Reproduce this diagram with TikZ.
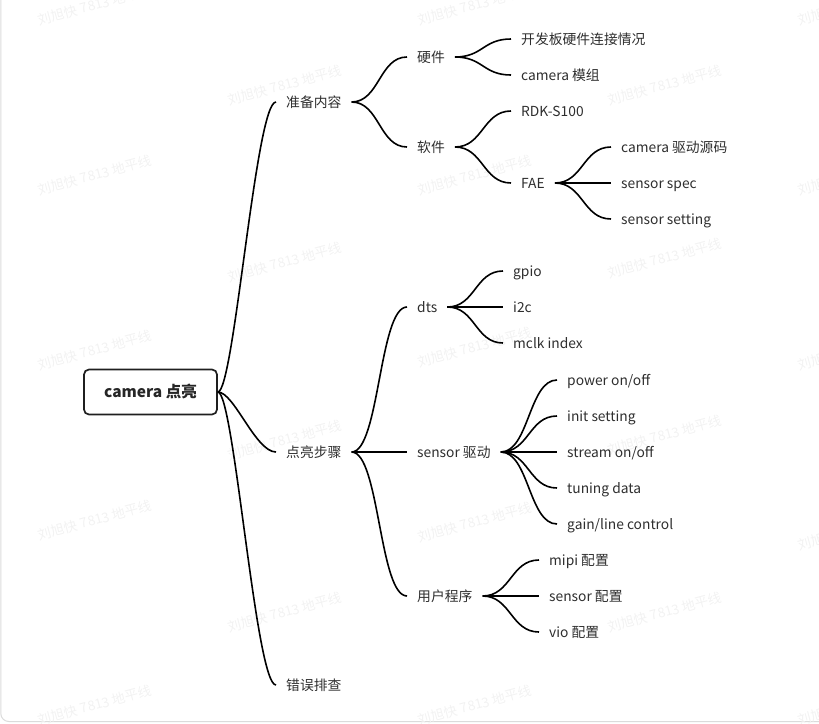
\documentclass[tikz,border=0pt]{standalone}
\usepackage{fontspec}
\setmainfont{Noto Sans CJK SC}
\usetikzlibrary{calc}
\tikzset{
  topic/.style={anchor=west, inner xsep=10pt, inner ysep=0pt, text height=12pt, text depth=2pt,
    font=\fontsize{13.8}{16}\selectfont, text=black!82},
  rootbox/.style={draw=black!88, line width=1.7pt, rounded corners=5pt, minimum width=133pt,
    minimum height=45pt, fill=white, text=black!85, font=\bfseries\fontsize{15.5}{18}\selectfont},
  link/.style={draw=black, line width=1.6pt, to path={let \p1=(\tikztostart), \p2=(\tikztotarget) in
    .. controls ({\x1+0.5*(\x2-\x1)},\y1) and ({\x2-0.5*(\x2-\x1)},\y2) .. (\tikztotarget)}},
  rootlink/.style={draw=black, line width=1.6pt, to path={let \p1=(\tikztostart), \p2=(\tikztotarget) in
    .. controls ({\x1+0.28*(\x2-\x1)},\y1) and ({\x2-0.35*(\x2-\x1)},\y2) .. (\tikztotarget)}},
  wmark/.style={rotate=15, text=black!5, font=\fontsize{13.5}{16}\selectfont, inner sep=0pt},
  frame/.style={draw=black!14, line width=1pt, rounded corners=8pt}
}
\begin{document}
\begin{tikzpicture}[x=1pt,y=-1pt]
\useasboundingbox (0,0) rectangle (819,723);
\begin{scope}
\clip (0,0) rectangle (819,723);
\draw[frame] (0.8,-10) rectangle (830,721.5);
% watermarks
\foreach \wx/\wy/\wn in {95/5/w1,475/5/w2,855/5/w3,285/85/w4,665/85/w5,95/175/w6,475/175/w7,855/175/w8,
  285/262/w9,665/258/w10,95/350/w11,475/347/w12,855/350/w13,285/440/w14,665/435/w15,
  95/520/w16,475/522/w17,855/530/w18,285/612/w19,665/612/w20,95/705/w21,475/705/w22,855/705/w23}
  \node[wmark] (\wn) at (\wx,\wy) {刘旭快 7813 地平线};
\end{scope}

% root
\node[rootbox] (root) at (150.5,392) {camera 点亮};

% level 1
\node[topic] (prep) at (276,102) {准备内容};
\node[topic] (light) at (276,452) {点亮步骤};
\node[topic] (debug) at (276,685) {错误排查};

% level 2
\node[topic] (hw) at (407,57) {硬件};
\node[topic] (sw) at (407,147) {软件};
\node[topic] (dts) at (407,307) {dts};
\node[topic] (drv) at (407,452) {sensor 驱动};
\node[topic] (app) at (407,596) {用户程序};

% level 3
\node[topic] (board) at (511,39) {开发板硬件连接情况};
\node[topic] (cammod) at (511,75) {camera 模组};
\node[topic] (rdk) at (511,111) {RDK-S100};
\node[topic] (fae) at (511,183) {FAE};

\node[topic] (gpio) at (503,271) {gpio};
\node[topic] (i2c) at (503,307) {i2c};
\node[topic] (mclk) at (503,343) {mclk index};

\node[topic] (pwr) at (557,380) {power on/off};
\node[topic] (init) at (557,416) {init setting};
\node[topic] (strm) at (557,452) {stream on/off};
\node[topic] (tune) at (557,488) {tuning data};
\node[topic] (gain) at (557,524) {gain/line control};

\node[topic] (mipi) at (539,560) {mipi 配置};
\node[topic] (scfg) at (539,596) {sensor 配置};
\node[topic] (vio) at (539,632) {vio 配置};

% level 4
\node[topic] (src) at (611,147) {camera 驱动源码};
\node[topic] (spec) at (611,183) {sensor spec};
\node[topic] (sset) at (611,219) {sensor setting};

% connectors
\draw[rootlink] (root.east) to (prep.west);
\draw[rootlink] (root.east) to (light.west);
\draw[rootlink] (root.east) to (debug.west);

\draw[link] (prep.east) to (hw.west);
\draw[link] (prep.east) to (sw.west);
\draw[link] (hw.east) to (board.west);
\draw[link] (hw.east) to (cammod.west);
\draw[link] (sw.east) to (rdk.west);
\draw[link] (sw.east) to (fae.west);
\draw[link] (fae.east) to (src.west);
\draw[link] (fae.east) to (spec.west);
\draw[link] (fae.east) to (sset.west);

\draw[link] (light.east) to (dts.west);
\draw[link] (light.east) to (drv.west);
\draw[link] (light.east) to (app.west);
\draw[link] (dts.east) to (gpio.west);
\draw[link] (dts.east) to (i2c.west);
\draw[link] (dts.east) to (mclk.west);
\draw[link] (drv.east) to (pwr.west);
\draw[link] (drv.east) to (init.west);
\draw[link] (drv.east) to (strm.west);
\draw[link] (drv.east) to (tune.west);
\draw[link] (drv.east) to (gain.west);
\draw[link] (app.east) to (mipi.west);
\draw[link] (app.east) to (scfg.west);
\draw[link] (app.east) to (vio.west);
\end{tikzpicture}
\end{document}
